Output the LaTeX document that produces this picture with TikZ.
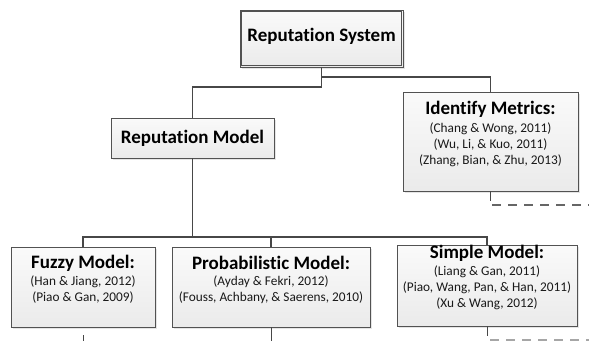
\documentclass[tikz,border=0pt]{standalone}
\usepackage{fontspec}
\setmainfont[Ligatures=NoCommon]{Carlito}
\usetikzlibrary{shadows}
\begin{document}
\begin{tikzpicture}[x=1pt,y=-1pt,
  conn/.style={draw=black!72, line width=1.2pt},
  dconn/.style={draw=black!60, line width=1.2pt, dash pattern=on 9pt off 7pt},
  boxstyle/.style={draw=black!68, line width=0.9pt, top color=black!2, bottom color=black!8,
     inner sep=0pt, drop shadow={shadow xshift=1.5pt, shadow yshift=-1.5pt, fill=black!20, opacity=0.5}},
  ttl/.style={font=\bfseries\fontsize{19}{22}\selectfont, inner sep=0pt, text=black},
  refs/.style={font=\fontsize{13.3}{16}\selectfont, align=center, inner sep=0pt, text=black!90}
]
\useasboundingbox (0,0) rectangle (589,341);

% boxes
\node[boxstyle, minimum width=163pt, minimum height=57pt] (sys) at (321.5,38.5) {};
\draw[black!68, line width=0.8pt] ([shift={(2.2pt,-2.2pt)}]sys.north west) rectangle ([shift={(-2.2pt,2.2pt)}]sys.south east);
\node[boxstyle, minimum width=163pt, minimum height=40pt] (rm) at (192.5,138) {};
\node[boxstyle, minimum width=175pt, minimum height=99pt] (im) at (490.5,141.5) {};
\node[boxstyle, minimum width=144pt, minimum height=80pt] (fz) at (83,287) {};
\node[boxstyle, minimum width=198pt, minimum height=80pt] (pm) at (271,287) {};
\node[boxstyle, minimum width=180pt, minimum height=81pt] (sm) at (487,285.5) {};

% texts
\node[ttl] (tsys) at (321.5,36) {Reputation System};
\node[ttl] (trm) at (192.5,138) {Reputation Model};
\node[ttl] (tim) at (490.5,109) {Identify Metrics:};
\node[refs] (rim) at (490.5,145) {(Chang \& Wong, 2011)\\ (Wu, Li, \& Kuo, 2011)\\(Zhang, Bian, \& Zhu, 2013)};
\node[ttl] (tfz) at (83,263) {Fuzzy Model:};
\node[refs] (rfz) at (83,289.5) {(Han \& Jiang, 2012)\\(Piao \& Gan, 2009)};
\node[ttl] (tpm) at (271,263) {Probabilistic Model:};
\node[refs] (rpm) at (271,289.5) {(Ayday \& Fekri, 2012)\\(Fouss, Achbany, \& Saerens, 2010)};
\node[ttl] (tsm) at (487,253) {Simple Model:};
\node[refs] (rsm) at (487,288) {(Liang \& Gan, 2011)\\(Piao, Wang, Pan, \& Han, 2011)\\(Xu \& Wang, 2012)};

% connectors
\coordinate (j1) at (321.5,87);
\coordinate (j2) at (321.5,77);
\coordinate (bus) at (192.5,237);
\draw[conn] (sys.south) -- (j1) -| (rm.north);
\draw[conn] (j2) -| (im.north);
\draw[conn] (rm.south) -- (bus);
\draw[conn] (fz.north) |- (bus) -| (sm.north);
\draw[conn] (pm.north) -- (pm.north |- bus);

% continuation stubs
\coordinate (ims) at (490.5,201);
\coordinate (imd1) at (492,205);
\coordinate (imd2) at (589,205);
\draw[conn] (im.south) -- (ims);
\draw[dconn] (imd1) -- (imd2);

\coordinate (fz1) at (83,335);
\coordinate (fz2) at (83,341);
\draw[conn, line width=1pt] (fz1) -- (fz2);

\coordinate (pm2) at (271,341);
\draw[conn, line width=1pt] (pm.south) -- (pm2);

\coordinate (sm1) at (487,336);
\coordinate (smd1) at (490,340);
\coordinate (smd2) at (589,340);
\draw[conn, line width=1pt] (sm.south) -- (sm1);
\draw[dconn, draw=black!35] (smd1) -- (smd2);
\end{tikzpicture}
\end{document}
